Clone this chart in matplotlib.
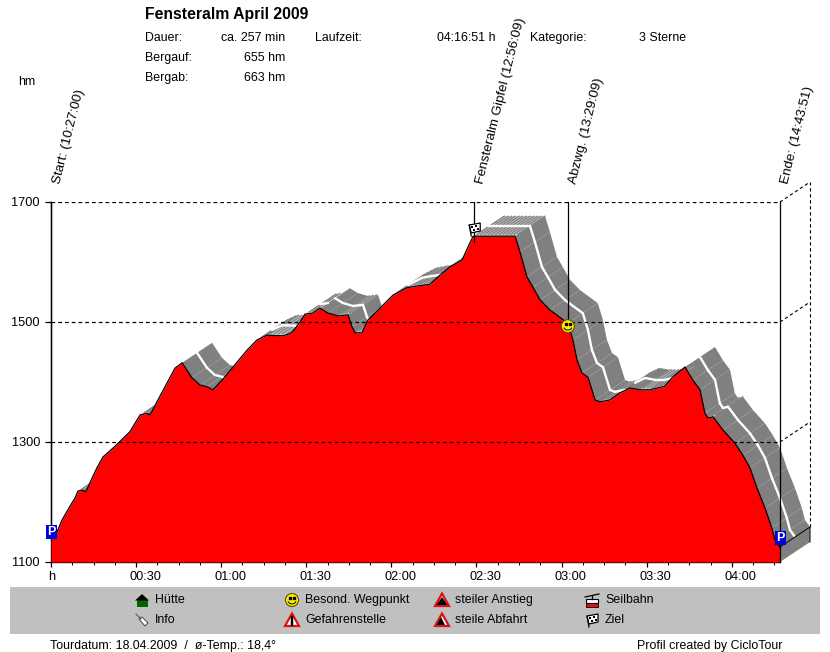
import numpy as np
import matplotlib
matplotlib.use("Agg")
import matplotlib.pyplot as plt
from matplotlib.patches import Polygon, Rectangle, Circle, Arc
from matplotlib.ticker import MultipleLocator
from matplotlib.transforms import ScaledTranslation

plt.rcParams['font.family'] = ['Liberation Sans', 'DejaVu Sans']
plt.rcParams['font.size'] = 8.9

# elevation profile: minutes since start, metres
minutes = [0, 2.1, 3.9, 6.7, 8.5, 9.5, 10.9, 12.3, 14.5, 16.2, 18.3, 21.9, 27.8, 31.4, 33.8, 34.9,
           37.7, 43.7, 46.2, 49.7, 52.5, 55.0, 57.1, 60.3, 64.2, 69.1, 72.6, 76.2, 81.8, 84.9, 87.8,
           89.5, 92.4, 94.8, 97.6, 101.2, 104.7, 106.1, 107.2, 109.6, 111.7, 117.0, 120.6, 125.5,
           129.0, 133.6, 137.1, 140.6, 144.9, 147.0, 148.8, 163.6, 165.3, 167.8, 169.9, 172.4, 175.9,
           182.2, 184.0, 185.4, 187.2, 189.3, 191.8, 193.5, 197.0, 200.6, 204.1, 207.6, 211.1, 216.4,
           218.9, 223.5, 226.3, 228.8, 230.5, 231.6, 233.4, 236.9, 241.1, 243.9, 246.4, 248.9, 251.7,
           254.1, 255.2, 257]
elevation = [1137, 1150, 1170, 1193, 1207, 1218, 1220, 1217, 1240, 1257, 1275, 1290, 1317, 1345, 1348, 1345,
             1370, 1423, 1432, 1407, 1395, 1392, 1387, 1403, 1425, 1453, 1470, 1478, 1477, 1482, 1500,
             1513, 1515, 1523, 1515, 1510, 1512, 1492, 1482, 1482, 1503, 1528, 1545, 1557,
             1560, 1563, 1578, 1592, 1603, 1625, 1643, 1643, 1617, 1575, 1558, 1537, 1520,
             1498, 1470, 1437, 1415, 1408, 1370, 1367, 1370, 1382, 1390, 1387, 1387, 1393,
             1407, 1425, 1403, 1387, 1348, 1340, 1342, 1320, 1298, 1278, 1257, 1223, 1190,
             1157, 1137, 1125]

waypoint_labels = ['Start: (10:27:00)', 'Fensteralm Gipfel (12:56:09)', 'Abzwg. (13:29:09)', 'Ende: (14:43:51)']
waypoint_minutes = [0, 149.15, 182.15, 256.85]
waypoint_ends = [1137, 1633, 1505, 1100]

y_ticks = [1100, 1300, 1500, 1700]
x_major = [0, 30, 60, 90, 120, 150, 180, 210, 240]
x_labels = ['h', '00:30', '01:00', '01:30', '02:00', '02:30', '03:00', '03:30', '04:00']

W, H = 830, 652
LEFT, RIGHT, BOTTOM, TOP = 51, 780, 562, 202
X_MAX = 257
PX_X = (RIGHT - LEFT) / X_MAX
PX_Y = (BOTTOM - TOP) / 600
# depth of the extruded band, in data units (30 px right, 20 px up)
DX = 30 / PX_X
DY = 20 / PX_Y


def to_px(t, e):
    return LEFT + t * PX_X, BOTTOM - (e - 1100) * PX_Y


fig = plt.figure(figsize=(W / 100, H / 100), dpi=100, facecolor='white')
ax = fig.add_axes([LEFT / W, 1 - BOTTOM / H, (RIGHT - LEFT) / W, (BOTTOM - TOP) / H])
ax.set_xlim(0, X_MAX)
ax.set_ylim(1100, 1700)
ax.patch.set_alpha(0)
for s in ['top', 'right']:
    ax.spines[s].set_visible(False)
for s in ['left', 'bottom']:
    ax.spines[s].set_linewidth(1.0)

# extruded band, right to left so that nearer parts cover farther ones
for i in range(len(minutes) - 2, -1, -1):
    t0, t1 = minutes[i], minutes[i + 1]
    e0, e1 = elevation[i], elevation[i + 1]
    slope = (e1 - e0) * PX_Y / ((t1 - t0) * PX_X)
    if slope >= 2 / 3:
        continue
    quad = [(t0, e0), (t1, e1), (t1 + DX, e1 + DY), (t0 + DX, e0 + DY)]
    light = slope >= -0.08
    ax.add_patch(Polygon(quad, closed=True, fc='#c4c4c4' if light else '#808080', ec='none',
                         zorder=2, clip_on=False))
    if light:
        for t in np.arange(t0 + 0.4, t1, 1.3):
            e = e0 + (e1 - e0) * (t - t0) / (t1 - t0)
            ax.plot([t + DX * 0.1, t + DX], [e + DY * 0.1, e + DY], color='#808080', lw=0.9,
                    zorder=2.1, clip_on=False)
    ax.plot([t0 + DX / 2, t1 + DX / 2], [e0 + DY / 2, e1 + DY / 2], color='white', lw=1.7,
            solid_capstyle='round', zorder=2.2, clip_on=False)

# end cap of the band and the box around it
ax.add_patch(Polygon([(X_MAX, 1100), (X_MAX + DX, 1100 + DY), (X_MAX + DX, elevation[-1] + DY), (X_MAX, elevation[-1])],
                     closed=True, fc='#808080', ec='none', zorder=2.3, clip_on=False))
ax.plot([X_MAX, X_MAX + DX, X_MAX + DX], [elevation[-1], elevation[-1] + DY, 1100 + DY], color='black', lw=0.7,
        zorder=2.4, clip_on=False)

ax.fill_between(minutes, elevation, 1100, color='#ff0000', lw=0, zorder=3)
ax.plot(minutes, elevation, color='black', lw=0.9, zorder=3.1)

for y in y_ticks[1:]:
    ax.plot([0, X_MAX], [y, y], color='black', lw=0.9, dashes=(3, 2.4), zorder=4)
    ax.plot([X_MAX, X_MAX + DX], [y, y + DY], color='black', lw=0.8, dashes=(3, 2.4), zorder=4, clip_on=False)
ax.plot([X_MAX + DX, X_MAX + DX], [elevation[-1] + DY, 1700 + DY], color='black', lw=0.8, dashes=(3, 2.4), zorder=4, clip_on=False)

ax.set_yticks(y_ticks)
ax.set_xticks(x_major)
ax.set_xticklabels(x_labels, ha='left')
ax.xaxis.set_minor_locator(MultipleLocator(7.5))
ax.tick_params(axis='y', length=4.5, width=0.9, pad=3.5, labelsize=9.2)
ax.tick_params(axis='x', which='major', length=3.5, width=0.9, pad=3, labelsize=9.2)
ax.tick_params(axis='x', which='minor', length=1.8, width=0.7)
for lab, txt in zip(ax.get_xticklabels(), x_labels):
    shift = -3 if txt == 'h' else -7
    lab.set_transform(lab.get_transform() + ScaledTranslation(shift / 100, 0, fig.dpi_scale_trans))

# waypoint leader lines and rotated labels
for label_text, t, end in zip(waypoint_labels, waypoint_minutes, waypoint_ends):
    ax.plot([t, t], [end, 1700], color='black', lw=0.9, zorder=4.2, clip_on=False)
    ax.annotate(label_text, xy=(t, 1733), xytext=(0, 0), textcoords='offset points', rotation=76,
                rotation_mode='anchor', ha='left', va='top', fontsize=9.6, annotation_clip=False)

# overlay in pixel coordinates for header, legend band and the little icons
ov = fig.add_axes([0, 0, 1, 1], zorder=5)
ov.set_xlim(0, W)
ov.set_ylim(H, 0)
ov.axis('off')
ov.patch.set_alpha(0)


def label(x, y, s, **kw):
    ov.text(x, y + 1, s, va='center', **kw)


def smiley(cx, cy, r=6.5):
    ov.add_patch(Circle((cx, cy), r, fc='#ffee00', ec='#555500', lw=0.8))
    ov.plot([cx - 2, cx + 2], [cy - 1.8, cy - 1.8], ls='none', marker='s', ms=1.6, color='black')
    ov.add_patch(Arc((cx, cy), r * 1.3, r * 1.2, theta1=20, theta2=160, ec='black', lw=0.7))


def park(cx, cy):
    ov.add_patch(Rectangle((cx - 5.5, cy - 7), 11, 14, fc='#0000dd', ec='none'))
    ov.text(cx, cy + 0.3, 'P', color='white', fontweight='bold', fontsize=9, ha='center', va='center')


def flag(cx, cy):
    ov.plot([cx - 5, cx - 3], [cy - 4, cy + 7], color='black', lw=0.9)
    ov.add_patch(Polygon([(cx - 5, cy - 4), (cx + 6, cy - 6), (cx + 6, cy + 2), (cx - 3, cy + 4)],
                         closed=True, fc='white', ec='black', lw=0.9))
    for ox, oy in [(-3.5, -3.5), (0.5, -4.5), (-1.5, -0.5), (2.5, -1.5)]:
        ov.add_patch(Rectangle((cx + ox, cy + oy), 2.2, 2.2, fc='black', ec='none'))


def triangle(cx, cy, kind):
    ov.add_patch(Polygon([(cx, cy - 6.5), (cx + 7, cy + 6), (cx - 7, cy + 6)], closed=True,
                         fc='white', ec='#dd1111', lw=1.6))
    if kind == 'danger':
        ov.plot([cx, cx], [cy - 3, cy + 1.5], color='black', lw=1.7)
        ov.plot([cx, cx], [cy + 2.6, cy + 4.6], color='black', lw=1.7)
    elif kind == 'up':
        ov.add_patch(Polygon([(cx - 5.5, cy + 5), (cx + 5.5, cy + 5), (cx, cy - 3)], closed=True, fc='black', ec='none'))
    else:
        ov.add_patch(Polygon([(cx - 5.5, cy + 5), (cx + 3, cy + 5), (cx - 1, cy - 3)], closed=True, fc='black', ec='none'))


def hut(cx, cy):
    ov.add_patch(Rectangle((cx - 5.5, cy), 11, 7, fc='#006600', ec='none'))
    ov.add_patch(Polygon([(cx - 7, cy + 0.5), (cx + 7, cy + 0.5), (cx, cy - 6)], closed=True, fc='black', ec='none'))


def pin(cx, cy):
    ov.plot([cx - 6, cx - 1], [cy - 6, cy - 1], color='#555555', lw=0.8)
    ov.add_patch(Polygon([(cx - 3, cy - 1), (cx, cy - 3), (cx + 6, cy + 3), (cx + 3, cy + 6)], closed=True,
                         fc='white', ec='#444444', lw=0.7))


def gondola(cx, cy):
    ov.plot([cx - 7, cx + 7], [cy - 3, cy - 6], color='black', lw=0.9)
    ov.plot([cx, cx], [cy - 5, cy - 1], color='black', lw=0.9)
    ov.add_patch(Rectangle((cx - 6, cy - 1), 12, 4, fc='white', ec='black', lw=0.8))
    ov.add_patch(Rectangle((cx - 6, cy + 3), 12, 4, fc='#dd1111', ec='black', lw=0.6))


# header
label(145, 13, 'Fensteralm April 2009', fontsize=11.3, fontweight='bold')
label(145, 37, 'Dauer:')
label(145, 57, 'Bergauf:')
label(145, 77, 'Bergab:')
label(285, 37, 'ca. 257 min', ha='right')
label(285, 57, '655 hm', ha='right')
label(285, 77, '663 hm', ha='right')
label(315, 37, 'Laufzeit:')
label(495, 37, '04:16:51 h', ha='right')
label(530, 37, 'Kategorie:')
label(639, 37, '3 Sterne')
label(18, 81, 'hm')

# markers on the profile
park(*to_px(0, 1150))
park(*to_px(X_MAX, 1140))
flag(*to_px(149.2, 1655))
smiley(*to_px(182.2, 1493))

# legend band
ov.add_patch(Rectangle((10, 587), 810, 47, fc='#c0c0c0', ec='none'))
hut(142, 600)
label(155, 599, 'Hütte')
pin(142, 620)
label(155, 619, 'Info')
smiley(292, 600)
label(305, 599, 'Besond. Wegpunkt')
triangle(292, 620, 'danger')
label(305, 619, 'Gefahrenstelle')
triangle(442, 600, 'up')
label(455, 599, 'steiler Anstieg')
triangle(442, 620, 'down')
label(455, 619, 'steile Abfahrt')
gondola(592, 600)
label(605, 599, 'Seilbahn')
flag(592, 620)
label(605, 619, 'Ziel')

# footer
label(50, 645, 'Tourdatum: 18.04.2009  /  ø-Temp.: 18,4°')
label(637, 645, 'Profil created by CicloTour')

fig.savefig('out.png', dpi=100)
